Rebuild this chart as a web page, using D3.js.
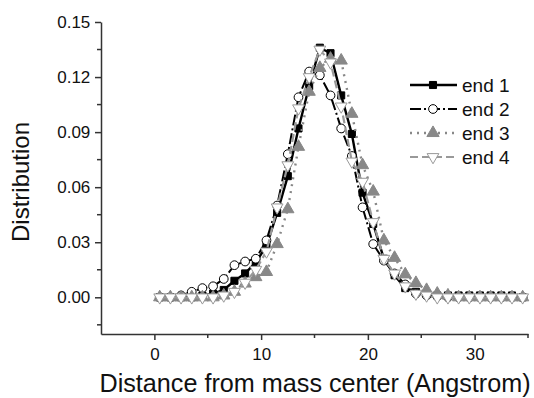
<!DOCTYPE html>
<html>
<head>
<meta charset="utf-8">
<script src="https://cdn.jsdelivr.net/npm/d3@7"></script>
<style>
  body { margin: 0; background: #fff; }
  text { font-family: "Liberation Sans", Arial, sans-serif; }
</style>
</head>
<body>
<svg id="chart" width="534" height="398"></svg>
<script>
// distance bins (Angstrom)
var distance = d3.range(0.5, 35, 1);

var end1 = [0,0,0,0,0.001,0.002,0.004,0.009,0.013,0.019,0.028,0.046,0.066,0.092,0.115,0.136,0.133,0.110,0.089,0.057,0.040,0.021,0.012,0.005,0.003,0.002,0.001,0.001,0.001,0.001,0.001,0.001,0.001,0.001,0];
var end2 = [0,0,0.001,0.003,0.005,0.006,0.010,0.0175,0.0195,0.021,0.031,0.050,0.078,0.109,0.123,0.121,0.110,0.092,0.077,0.049,0.029,0.020,0.013,0.007,0.002,0.001,0.0005,0,0,0,0,0,0,0,0];
var end3 = [0,0,0,0,0,0,0.001,0.003,0.0075,0.011,0.0138,0.029,0.048,0.082,0.112,0.125,0.130,0.129,0.100,0.072,0.0576,0.031,0.0215,0.0125,0.0078,0.004,0.002,0.001,0,0,0,0,0,0,0];
var end4 = [0,0,0,0,0,0,0.001,0.003,0.008,0.015,0.025,0.049,0.072,0.103,0.120,0.135,0.128,0.104,0.074,0.063,0.041,0.021,0.013,0.006,0.002,0.001,0,0,0,0,0,0,0,0,0];

var seriesNames = ["end 1","end 2","end 3","end 4"];
var xTicks = [0,10,20,30];
var yTicks = [0,0.03,0.06,0.09,0.12,0.15];

var styles = [
  {values:end1, stroke:"#000", dash:null, width:2.4, sym:d3.symbolSquare, size:50, fill:"#000", rot:0},
  {values:end2, stroke:"#000", dash:"11,3,2,3", width:2, sym:d3.symbolCircle, size:60, fill:"#fff", rot:0},
  {values:end3, stroke:"#888", dash:"2,5", width:2.4, sym:d3.symbolTriangle, size:65, fill:"#888", rot:0},
  {values:end4, stroke:"#999", dash:"8,4", width:2.2, sym:d3.symbolTriangle, size:60, fill:"#fff", rot:180}
];

var svg = d3.select("#chart");
var x = d3.scaleLinear().domain([-5, 35]).range([101, 528]);
var y = d3.scaleLinear().domain([-0.02, 0.15]).range([334, 22]);

// axes
var xAxis = d3.axisBottom(x).tickValues(xTicks).tickSize(6).tickSizeOuter(0).tickFormat(d3.format("d"));
var yAxis = d3.axisLeft(y).tickValues(yTicks).tickSize(6).tickSizeOuter(0).tickFormat(d3.format(".2f"));

var gx = svg.append("g").attr("transform","translate(0," + y(-0.02) + ")").call(xAxis);
var gy = svg.append("g").attr("transform","translate(" + x(-5) + ",0)").call(yAxis);

// minor ticks
gx.selectAll(".minor").data([5,15,25,35]).enter().append("line")
  .attr("x1", function(d){ return x(d); }).attr("x2", function(d){ return x(d); })
  .attr("y1", 0).attr("y2", 4).attr("stroke","#333").attr("stroke-width",1.5);
gy.selectAll(".minor").data([-0.015,0.015,0.045,0.075,0.105,0.135]).enter().append("line")
  .attr("y1", function(d){ return y(d); }).attr("y2", function(d){ return y(d); })
  .attr("x1", 0).attr("x2", -4).attr("stroke","#333").attr("stroke-width",1.5);

[gx, gy].forEach(function(g){
  g.select(".domain").attr("stroke","#333").attr("stroke-width",1.5);
  g.selectAll(".tick line").attr("stroke","#333").attr("stroke-width",1.5);
  g.selectAll(".tick text").attr("fill","#111").style("font-size","17px");
});
gx.selectAll(".tick text").attr("dy","1.0em");
gy.selectAll(".tick text").attr("dx","-0.1em");

// axis titles
svg.append("text").attr("x", 315).attr("y", 392).attr("text-anchor","middle")
  .style("font-size","25.2px").attr("fill","#111").text("Distance from mass center (Angstrom)");
svg.append("text").attr("transform","translate(29,182) rotate(-90)").attr("text-anchor","middle")
  .style("font-size","24px").attr("fill","#111").text("Distribution");

// series
var line = d3.line().x(function(d,i){ return x(distance[i]); }).y(function(d){ return y(d); });

styles.forEach(function(s){
  svg.append("path").datum(s.values)
    .attr("d", line).attr("fill","none")
    .attr("stroke", s.stroke).attr("stroke-width", s.width)
    .attr("stroke-dasharray", s.dash);
  svg.append("g").selectAll("path").data(s.values).enter().append("path")
    .attr("d", d3.symbol().type(s.sym).size(s.size))
    .attr("transform", function(d,i){ return "translate(" + x(distance[i]) + "," + y(d) + ") rotate(" + s.rot + ")"; })
    .attr("fill", s.fill).attr("stroke", s.stroke).attr("stroke-width", 1);
});

// legend
var leg = svg.append("g").attr("transform","translate(410,85)");
styles.forEach(function(s, k){
  var row = leg.append("g").attr("transform","translate(0," + (k*24) + ")");
  row.append("line").attr("x1",0).attr("x2",47).attr("y1",0).attr("y2",0)
    .attr("stroke", s.stroke).attr("stroke-width", s.width).attr("stroke-dasharray", s.dash);
  row.append("path").attr("d", d3.symbol().type(s.sym).size(s.size))
    .attr("transform","translate(23,0) rotate(" + s.rot + ")")
    .attr("fill", s.fill).attr("stroke", s.stroke).attr("stroke-width",1);
  row.append("text").attr("x", 52).attr("y", 7).style("font-size","19px").attr("fill","#111").text(seriesNames[k]);
});
</script>
</body>
</html>
